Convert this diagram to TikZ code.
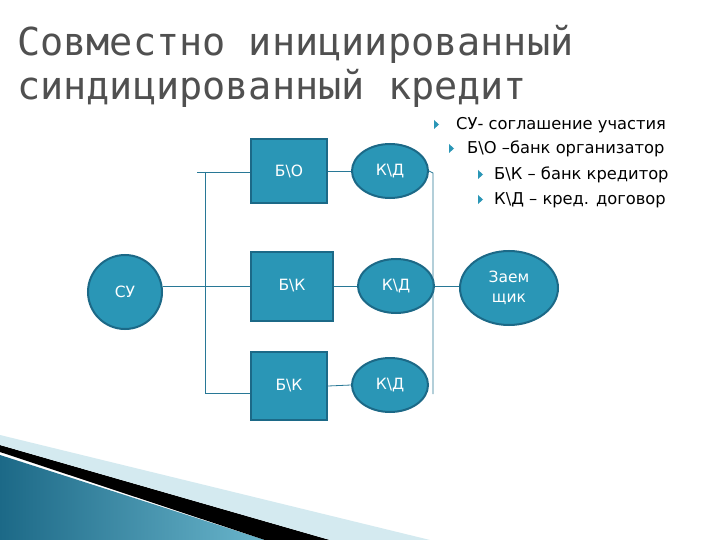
\documentclass[tikz,border=0pt]{standalone}
\usepackage{fontspec}
\setmainfont{DejaVu Sans}
\newfontfamily\titlefont{DejaVu Sans Mono}
\usetikzlibrary{shapes.geometric}
\definecolor{tealf}{RGB}{42,150,182}
\definecolor{tealb}{RGB}{28,105,135}
\definecolor{linec}{RGB}{40,120,150}
\definecolor{titlec}{RGB}{80,80,80}
\begin{document}
\begin{tikzpicture}[x=1pt,y=-1pt,
  box/.style={draw=tealb,line width=2pt,fill=tealf,text=white,font=\fontsize{15.5}{17}\selectfont,inner sep=0pt},
  ell/.style={box,ellipse},
  conn/.style={draw=linec,line width=0.8pt},
  ttl/.style={anchor=base west,inner sep=0pt,text=titlec,font=\titlefont\fontsize{38.5}{44}\selectfont},
  bul/.style={anchor=base west,font=\fontsize{16.3}{19}\selectfont,inner sep=0pt}]
\useasboundingbox (0,0) rectangle (720,540);
\fill[white] (0,0) rectangle (720,540);
% decoration
\shade[left color=tealb,right color=tealf!70] (0,455) -- (0,540) -- (265,540) -- cycle;
\fill[black] (0,452) -- (265,540) -- (330,540) -- (0,445) -- cycle;
\fill[tealf!20] (0,445) -- (330,540) -- (430,540) -- (0,435) -- cycle;
% title
\node[ttl] (title1) at (17,56) {Совместно инициированный};
\node[ttl] (title2) at (17,100) {синдицированный кредит};
% nodes
\node[box,circle,minimum size=74pt] (su) at (125,292) {СУ};
\node[box,minimum width=76pt,minimum height=64pt] (bo) at (289,171) {Б\textbackslash О};
\node[box,minimum width=82pt,minimum height=69pt] (bk1) at (292,286) {Б\textbackslash К};
\node[box,minimum width=76pt,minimum height=68pt] (bk2) at (289,386) {Б\textbackslash К};
\node[ell,minimum width=76pt,minimum height=54pt] (kd1) at (390,171) {К\textbackslash Д};
\node[ell,minimum width=76pt,minimum height=54pt] (kd2) at (396,286) {К\textbackslash Д};
\node[ell,minimum width=76pt,minimum height=54pt] (kd3) at (390,385) {К\textbackslash Д};
\node[ell,minimum width=98pt,minimum height=74pt,align=center,font=\fontsize{15.5}{20}\selectfont] (zs) at (509,288) {Заем\\щик};
% connectors
\coordinate (l1) at (197,172); \coordinate (l3) at (205,393);
\coordinate (r1) at (433,173); \coordinate (r3) at (433,394);
\draw[conn] (l1) -- (bo.west |- l1);
\draw[conn] (205,172) -- (l3) -- (bk2.west |- l3);
\draw[conn] (su.east |- bk1.west) -- (bk1.west);
\draw[conn] (bo.east) -- (kd1.west);
\draw[conn] (bk1.east) -- (kd2.west);
\draw[conn] (bk2.east) -- (kd3.west);
\draw[conn] (kd1.east) -- (r1) -- (r3) -- (kd3.east -| r3);
\draw[conn] (kd2.east) -- (zs.west |- kd2.east);
% bullets
\foreach \bx/\by in {434/130,449/154,478/180,478/205}
  \fill[tealf] (\bx,\by-10) -- (\bx+5,\by-5.5) -- (\bx,\by-1) -- cycle;
\node[bul] (t1) at (456,130) {СУ- соглашение участия};
\node[bul] (t2) at (467,154) {Б\textbackslash О –банк организатор};
\node[bul] (t3) at (494,180) {Б\textbackslash К – банк кредитор};
\node[bul] (t4) at (494,205) {К\textbackslash Д – кред. договор};
\end{tikzpicture}
\end{document}
